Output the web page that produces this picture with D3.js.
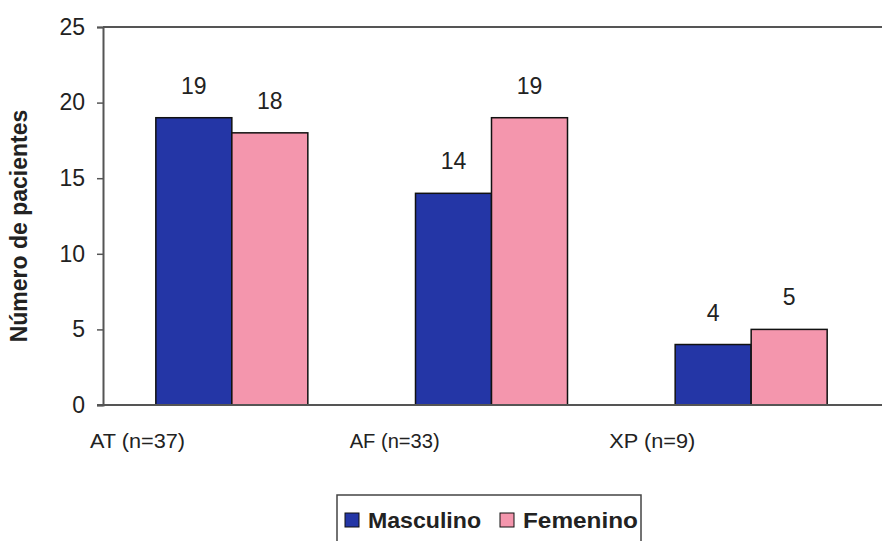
<!DOCTYPE html>
<html><head><meta charset="utf-8">
<script src="https://cdn.jsdelivr.net/npm/d3@7"></script>
<style>body{margin:0;background:#fff}svg{display:block}</style>
</head><body>
<script>
const categories = ["AT (n=37)", "AF (n=33)", "XP (n=9)"];
const seriesNames = ["Masculino", "Femenino"];
const masculino = [19, 14, 4];
const femenino = [18, 19, 5];
const yTicks = [0, 5, 10, 15, 20, 25];
const colors = ["#2436a6", "#f496ad"];

(function(){
const W = 882, H = 541;
const svg = d3.select("body").append("svg").attr("width", W).attr("height", H);
const mLeft = 103, mRight = 882, mTop = 27, mBottom = 405;
const font = "Liberation Sans, Arial, sans-serif";

const x0 = d3.scaleBand().domain(categories).range([mLeft, mRight]);
const x1 = d3.scaleBand().domain(seriesNames).range([x0.bandwidth()/2 - 77, x0.bandwidth()/2 + 75]);
const y = d3.scaleLinear().domain([0, 25]).range([mBottom, mTop]);

svg.append("line").attr("x1", mLeft).attr("x2", mRight).attr("y1", mTop).attr("y2", mTop)
  .attr("stroke", "#555").attr("stroke-width", 2);

const data = categories.map((c, i) => ({cat: c, vals: [masculino[i], femenino[i]]}));
const g = svg.append("g");
data.forEach(d => {
  d.vals.forEach((v, j) => {
    const bx = x0(d.cat) + x1(seriesNames[j]);
    g.append("rect").attr("x", bx).attr("y", y(v)).attr("width", x1.bandwidth())
      .attr("height", y(0) - y(v)).attr("fill", colors[j]).attr("stroke", "#111").attr("stroke-width", 1.5);
    g.append("text").attr("x", bx + x1.bandwidth()/2).attr("y", y(v) - 24)
      .attr("text-anchor", "middle").attr("font-family", font)
      .attr("font-size", 23).attr("fill", "#222").text(v);
  });
});

const yAxis = d3.axisLeft(y).tickValues(yTicks).tickSize(6).tickPadding(12);
const ya = svg.append("g").attr("transform", `translate(${mLeft},0)`).call(yAxis);
ya.select(".domain").attr("stroke", "#555").attr("stroke-width", 2);
ya.selectAll(".tick line").attr("stroke", "#555").attr("stroke-width", 1.5);
ya.selectAll(".tick text").attr("font-family", font)
  .attr("font-size", 23).attr("fill", "#222");

svg.append("line").attr("x1", mLeft - 6).attr("x2", mRight).attr("y1", mBottom).attr("y2", mBottom)
  .attr("stroke", "#555").attr("stroke-width", 2);

svg.selectAll(".cat").data(categories).enter().append("text")
  .attr("x", d => x0(d) - 13).attr("y", 448)
  .attr("font-family", font)
  .attr("font-size", 21).attr("fill", "#222")
  .attr("textLength", (d, i) => [95, 90, 86][i]).attr("lengthAdjust", "spacingAndGlyphs")
  .text(d => d);

svg.append("text").attr("transform", "translate(27,226) rotate(-90)")
  .attr("text-anchor", "middle").attr("font-family", font)
  .attr("font-weight", "bold").attr("font-size", 23).attr("fill", "#222").text("Número de pacientes");

const lg = svg.append("g");
lg.append("rect").attr("x", 337).attr("y", 495).attr("width", 304).attr("height", 50)
  .attr("fill", "none").attr("stroke", "#444").attr("stroke-width", 1.5);
const lx = [345, 500];
const lw = [113, 115];
seriesNames.forEach((s, j) => {
  lg.append("rect").attr("x", lx[j]).attr("y", 513).attr("width", 14).attr("height", 14)
    .attr("fill", colors[j]).attr("stroke", "#111").attr("stroke-width", 1);
  lg.append("text").attr("x", lx[j] + 23).attr("y", 528)
    .attr("font-family", font)
    .attr("font-weight", "bold").attr("font-size", 22).attr("fill", "#222")
    .attr("textLength", lw[j]).attr("lengthAdjust", "spacingAndGlyphs").text(s);
});
})();
</script>
</body></html>
